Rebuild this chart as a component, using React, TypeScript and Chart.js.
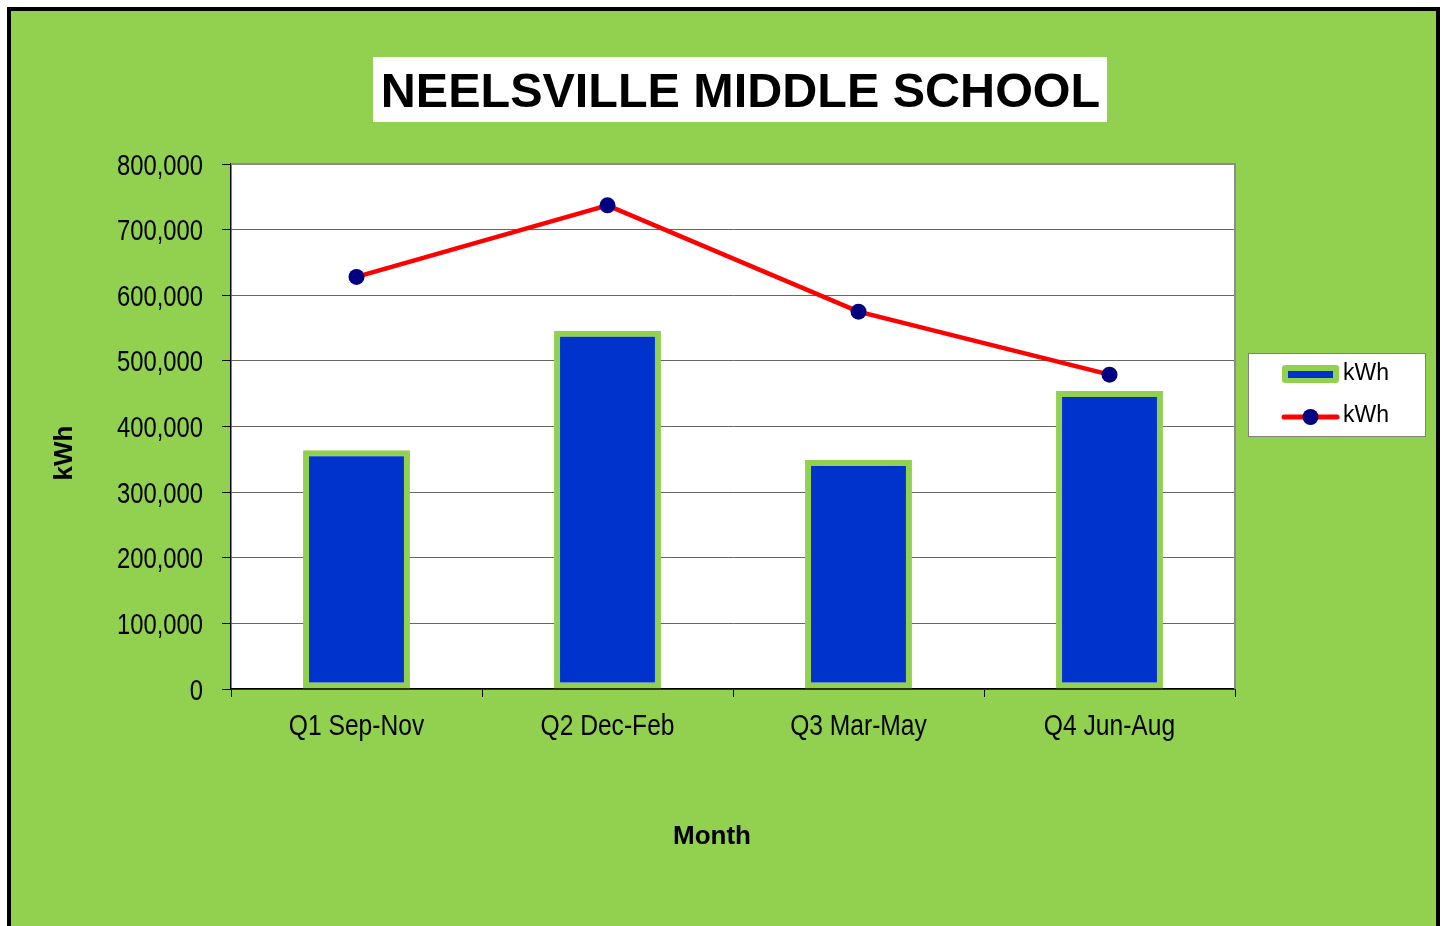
import React, { useEffect, useRef } from "react";
import { Chart, registerables } from "chart.js";

Chart.register(...registerables);

const categories = ["Q1 Sep-Nov", "Q2 Dec-Feb", "Q3 Mar-May", "Q4 Jun-Aug"];
const barValues = [364000, 546000, 349000, 454000];
const lineValues = [628000, 737000, 575000, 479000];
const seriesLabels = ["kWh", "kWh"];
const yMin = 0;
const yMax = 800000;
const yStep = 100000;
const titleText = "NEELSVILLE MIDDLE SCHOOL";
const xAxisTitle = "Month";
const yAxisTitle = "kWh";

const GREEN = "#92D050";
const BLUE = "#0033CC";
const RED = "#FF0000";
const NAVY = "#000080";
const SANS = "'Liberation Sans', Arial, sans-serif";
const NARROW_SCALE = 0.82;

function narrowText(ctx: CanvasRenderingContext2D, text: string, x: number, y: number, size: number, align: CanvasTextAlign) {
  ctx.save();
  ctx.font = `${size}px ${SANS}`;
  ctx.textAlign = align;
  ctx.textBaseline = "alphabetic";
  ctx.translate(x, y);
  ctx.scale(NARROW_SCALE, 1);
  ctx.fillText(text, 0, 0);
  ctx.restore();
}

const decorPlugin = {
  id: "decor",
  beforeDraw(chart: any) {
    const { ctx, chartArea } = chart;
    ctx.save();
    ctx.fillStyle = "#FFFFFF";
    ctx.fillRect(chartArea.left, chartArea.top, chartArea.right - chartArea.left, chartArea.bottom - chartArea.top);
    ctx.restore();
  },
  beforeDatasetsDraw(chart: any) {
    const { ctx, chartArea } = chart;
    ctx.save();
    ctx.strokeStyle = "#8C8C8C";
    ctx.lineWidth = 2;
    ctx.beginPath();
    ctx.moveTo(chartArea.left, chartArea.top);
    ctx.lineTo(chartArea.right, chartArea.top);
    ctx.lineTo(chartArea.right, chartArea.bottom);
    ctx.stroke();
    ctx.restore();
  },
  afterDraw(chart: any) {
    const { ctx } = chart;
    ctx.save();
    ctx.fillStyle = "#000000";

    // Tick labels (narrow face), positioned from the chart's own scales
    const xs = chart.scales.x;
    const ys = chart.scales.y;
    xs.ticks.forEach((t: any, i: number) => {
      const px = xs.getPixelForTick(i);
      narrowText(ctx, String(xs.getLabelForValue(t.value)), px, xs.top + 46, 30, "center");
    });
    ys.ticks.forEach((t: any, i: number) => {
      const py = ys.getPixelForTick(i);
      narrowText(ctx, Number(t.value).toLocaleString("en-US"), ys.right - 28, py + 10.5, 29, "right");
    });

    // Title box
    ctx.fillStyle = "#FFFFFF";
    ctx.fillRect(373, 57, 734, 65);
    ctx.fillStyle = "#000000";
    ctx.font = `bold 48.5px ${SANS}`;
    ctx.textAlign = "center";
    ctx.textBaseline = "alphabetic";
    ctx.fillText(titleText, 740.5, 107);

    // Axis titles
    ctx.font = `bold 26px ${SANS}`;
    ctx.fillText(xAxisTitle, 712, 844);
    ctx.save();
    ctx.translate(72, 453);
    ctx.rotate(-Math.PI / 2);
    ctx.fillText(yAxisTitle, 0, 0);
    ctx.restore();

    // Legend
    ctx.fillStyle = "#FFFFFF";
    ctx.fillRect(1248, 353, 178, 84);
    ctx.strokeStyle = "#808080";
    ctx.lineWidth = 1;
    ctx.strokeRect(1248.5, 353.5, 177, 83);

    const ds = chart.data.datasets;
    const barDs = ds.find((d: any) => d.type === "bar");
    const lineDs = ds.find((d: any) => d.type === "line");

    ctx.fillStyle = barDs.borderColor;
    ctx.beginPath();
    if ((ctx as any).roundRect) (ctx as any).roundRect(1282, 365, 57, 18, 3);
    else ctx.rect(1282, 365, 57, 18);
    ctx.fill();
    ctx.fillStyle = barDs.backgroundColor;
    ctx.fillRect(1288, 371, 45, 7);

    ctx.strokeStyle = lineDs.borderColor;
    ctx.lineWidth = 5;
    ctx.lineCap = "round";
    ctx.beginPath();
    ctx.moveTo(1284, 417);
    ctx.lineTo(1337, 417);
    ctx.stroke();
    ctx.fillStyle = lineDs.pointBackgroundColor;
    ctx.beginPath();
    ctx.arc(1310.5, 417, 8, 0, Math.PI * 2);
    ctx.fill();

    ctx.fillStyle = "#000000";
    ctx.font = `23px ${SANS}`;
    ctx.textAlign = "left";
    ctx.textBaseline = "middle";
    ctx.fillText(barDs.label, 1343, 374);
    ctx.fillText(lineDs.label, 1343, 416);
    ctx.restore();
  },
};

export default function App() {
  const canvasRef = useRef<HTMLCanvasElement | null>(null);

  useEffect(() => {
    if (!canvasRef.current) return;
    const chart = new Chart(canvasRef.current, {
      type: "bar",
      data: {
        labels: categories,
        datasets: [
          {
            type: "line",
            label: seriesLabels[1],
            data: lineValues,
            borderColor: RED,
            borderWidth: 4.5,
            pointRadius: 8,
            pointBackgroundColor: NAVY,
            pointBorderColor: NAVY,
            pointBorderWidth: 0,
            tension: 0,
            order: 0,
          } as any,
          {
            type: "bar",
            label: seriesLabels[0],
            data: barValues,
            backgroundColor: BLUE,
            borderColor: GREEN,
            borderWidth: 6,
            borderSkipped: false,
            barPercentage: 0.426,
            categoryPercentage: 1.0,
            order: 1,
          } as any,
        ],
      },
      options: {
        responsive: false,
        animation: false,
        devicePixelRatio: 1,
        layout: { padding: { left: 0, top: 164, right: 209, bottom: 0 } },
        plugins: {
          legend: { display: false },
          title: { display: false },
          tooltip: { enabled: false },
        },
        scales: {
          x: {
            offset: true,
            grid: {
              offset: true,
              drawOnChartArea: false,
              drawTicks: true,
              tickLength: 8,
              tickColor: "#000000",
              tickWidth: 1,
            },
            border: { color: "#000000", width: 1.5 },
            ticks: { display: false, autoSkip: false, maxRotation: 0 },
            afterFit: (s: any) => {
              s.height = 237;
            },
          },
          y: {
            min: yMin,
            max: yMax,
            ticks: { display: false, stepSize: yStep },
            grid: {
              color: "#666666",
              lineWidth: 1,
              tickLength: 9,
              tickColor: "#000000",
            },
            border: { color: "#000000", width: 1.5 },
            afterFit: (s: any) => {
              s.width = 231;
            },
          },
        },
      } as any,
      plugins: [decorPlugin],
    });
    return () => chart.destroy();
  }, []);

  return (
    <div style={{ position: "fixed", left: 0, top: 0, width: 1444, height: 926, overflow: "hidden" }}>
      <div
        style={{
          position: "absolute",
          left: 7,
          top: 7,
          width: 1433,
          height: 1000,
          border: "4px solid #000",
          boxSizing: "border-box",
          background: GREEN,
        }}
      />
      <canvas
        ref={canvasRef}
        width={1444}
        height={926}
        style={{ position: "absolute", left: 0, top: 0, width: 1444, height: 926, display: "block" }}
      />
    </div>
  );
}
